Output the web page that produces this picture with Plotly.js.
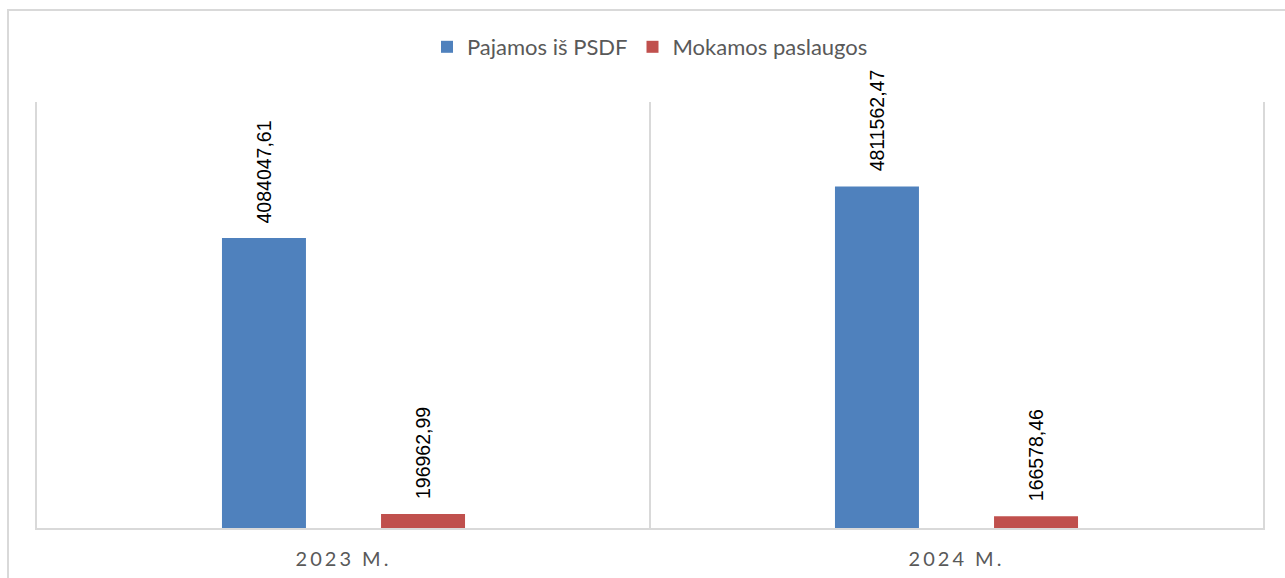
<!DOCTYPE html>
<html>
<head>
<meta charset="utf-8">
<script src="https://cdn.plot.ly/plotly-3.0.1.min.js"></script>
<style>
  html, body { margin: 0; padding: 0; background: #fff; }
  #wrap { position: relative; width: 1285px; height: 578px; overflow: hidden; }
  #chart { position: absolute; left: 0; top: 0; width: 1285px; height: 578px; }
  #frame { position: absolute; left: 7px; top: 9px; width: 1300px; height: 600px; border: 2px solid #d9d9d9; box-sizing: border-box; pointer-events: none; }
  .xtick text { letter-spacing: 3px; }
</style>
</head>
<body>
<div id="wrap">
  <div id="chart"></div>
  <div id="frame"></div>
</div>
<script>
const categories = ["2023 M.", "2024 M."];
const seriesNames = ["Pajamos iš PSDF", "Mokamos paslaugos"];
const pajamos = [4084047.61, 4811562.47];
const mokamos = [196962.99, 166578.46];
const seriesValues = [pajamos, mokamos];
const seriesColors = ["#4f81bd", "#c0504d"];

const bargap = 0.481;
const bargroupgap = 0.472;

function fmt(v) {
  return v.toFixed(2).replace(".", ",");
}

const traces = seriesValues.map((vals, j) => ({
  type: "bar",
  name: seriesNames[j],
  x: categories,
  y: vals,
  marker: { color: seriesColors[j] },
  hoverinfo: "skip"
}));

const nSeries = seriesValues.length;
const slot = (1 - bargap) / nSeries;
const annotations = [];
seriesValues.forEach((vals, j) => {
  vals.forEach((v, i) => {
    annotations.push({
      xref: "x", yref: "y",
      x: i + (j - (nSeries - 1) / 2) * slot,
      y: v,
      text: fmt(v),
      showarrow: false,
      textangle: -90,
      xanchor: "center",
      yanchor: "bottom",
      yshift: 13,
      font: { family: "Liberation Sans, Arial, sans-serif", size: 19.5, color: "#000000" }
    });
  });
});

const layout = {
  width: 1285,
  height: 578,
  margin: { l: 37, r: 22, t: 102, b: 50 },
  paper_bgcolor: "rgba(0,0,0,0)",
  plot_bgcolor: "#ffffff",
  barmode: "group",
  bargap: bargap,
  bargroupgap: bargroupgap,
  showlegend: true,
  legend: {
    orientation: "h",
    x: 0.5, xanchor: "center",
    y: 1 - 47 / 578, yref: "container", yanchor: "middle",
    font: { family: "Lato, sans-serif", size: 22, color: "#595959" },
    itemwidth: 30,
    traceorder: "normal"
  },
  xaxis: {
    type: "category",
    tickson: "boundaries",
    showgrid: true,
    gridcolor: "#d9d9d9",
    gridwidth: 2,
    showline: true,
    linecolor: "#d9d9d9",
    linewidth: 2,
    ticks: "",
    zeroline: false,
    tickfont: { family: "Lato, sans-serif", size: 20, color: "#595959" },
    ticklabelstandoff: 12,
    fixedrange: true
  },
  yaxis: {
    range: [0, 6000000],
    showgrid: false,
    zeroline: false,
    showline: true,
    mirror: true,
    linecolor: "#d9d9d9",
    linewidth: 2,
    showticklabels: false,
    ticks: "",
    fixedrange: true
  },
  annotations: annotations
};

Plotly.newPlot("chart", traces, layout, { displayModeBar: false, staticPlot: true });
</script>
</body>
</html>
